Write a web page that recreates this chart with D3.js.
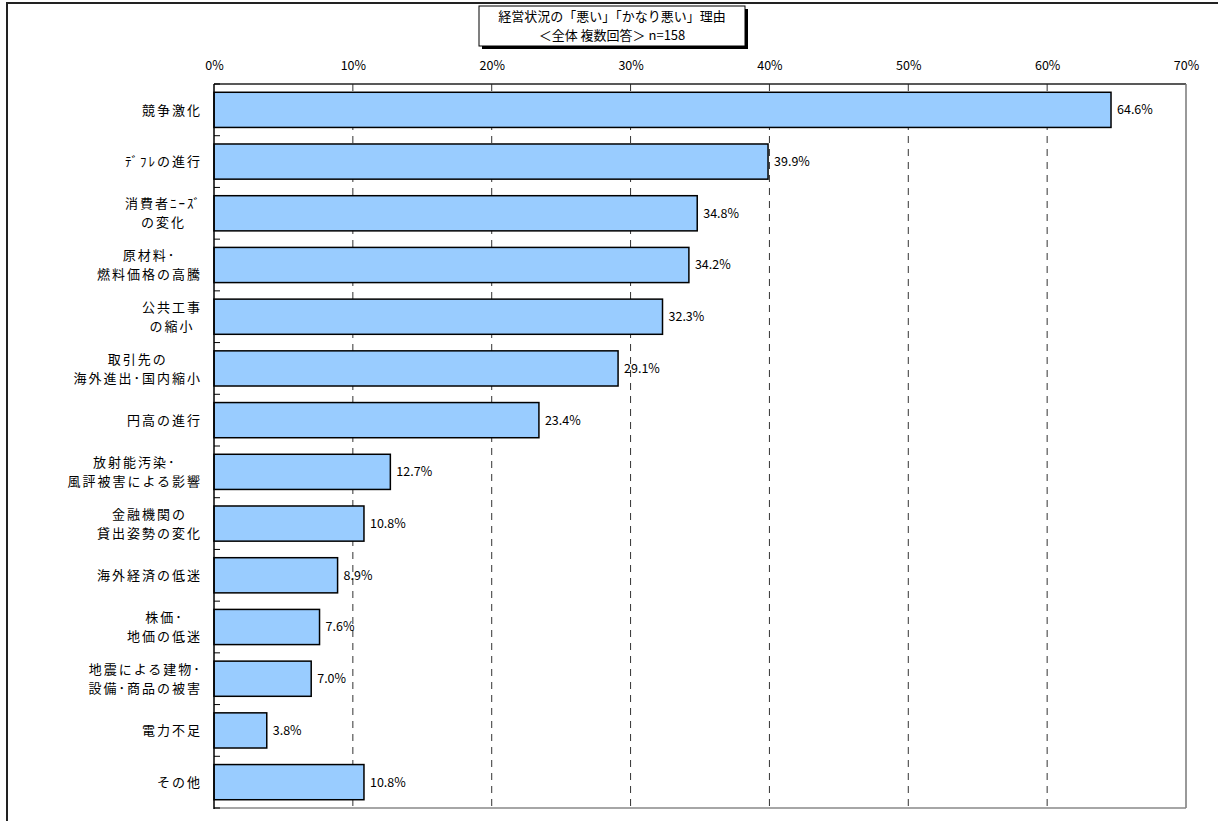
<!DOCTYPE html>
<html>
<head>
<meta charset="utf-8">
<script src="https://cdn.jsdelivr.net/npm/d3@7"></script>
<style>
  body { margin: 0; background: #fff; }
  svg { display: block; }
  text { font-family: "Noto Sans CJK JP", "Liberation Sans", sans-serif; fill: #000; }
</style>
</head>
<body>
<svg id="chart" width="1218" height="821"></svg>
<script>
// chart data
const categories = [
  "競争激化",
  "ﾃﾞﾌﾚの進行",
  "消費者ﾆｰｽﾞ\nの変化",
  "原材料･\n燃料価格の高騰",
  "公共工事\nの縮小",
  "取引先の\n海外進出･国内縮小",
  "円高の進行",
  "放射能汚染･\n風評被害による影響",
  "金融機関の\n貸出姿勢の変化",
  "海外経済の低迷",
  "株価･\n地価の低迷",
  "地震による建物･\n設備･商品の被害",
  "電力不足",
  "その他"
];
const values = [64.6, 39.9, 34.8, 34.2, 32.3, 29.1, 23.4, 12.7, 10.8, 8.9, 7.6, 7.0, 3.8, 10.8];
const ticks = [0, 10, 20, 30, 40, 50, 60, 70];
const titleLines = ["経営状況の「悪い」「かなり悪い」理由", "＜全体 複数回答＞ n=158"];

const svg = d3.select("#chart");
const plot = { left: 214, right: 1186, top: 84, bottom: 808 };

// outer chart frame (runs off the canvas on right/bottom)
svg.append("rect")
  .attr("x", 7).attr("y", 3).attr("width", 1240).attr("height", 840)
  .attr("fill", "none").attr("stroke", "#222").attr("stroke-width", 2);

const x = d3.scaleLinear().domain([0, 70]).range([plot.left, plot.right]);
const y = d3.scaleBand().domain(categories).range([plot.top, plot.bottom])
  .paddingInner(0.32).paddingOuter(0.16);

// gridlines
svg.append("g").selectAll("line").data(ticks.filter(t => t > 0 && t < 70)).join("line")
  .attr("x1", d => x(d)).attr("x2", d => x(d))
  .attr("y1", plot.top).attr("y2", plot.bottom)
  .attr("stroke", "#333").attr("stroke-width", 1)
  .attr("stroke-dasharray", "7,6");

// plot border: top dark, right and bottom grey
svg.append("line").attr("x1", plot.left).attr("x2", plot.right)
  .attr("y1", plot.top).attr("y2", plot.top).attr("stroke", "#222").attr("stroke-width", 1.5);
svg.append("line").attr("x1", plot.right).attr("x2", plot.right)
  .attr("y1", plot.top).attr("y2", plot.bottom).attr("stroke", "#777").attr("stroke-width", 1.5);
svg.append("line").attr("x1", plot.left).attr("x2", plot.right)
  .attr("y1", plot.bottom).attr("y2", plot.bottom).attr("stroke", "#888").attr("stroke-width", 1.5);

// top axis labels
const xAxis = d3.axisTop(x).tickValues(ticks).tickFormat(d => d + "%").tickSize(0).tickPadding(0);
const xg = svg.append("g").attr("transform", `translate(0,${plot.top - 14})`).call(xAxis);
xg.select(".domain").remove();
xg.selectAll("text")
  .attr("font-family", "'Liberation Sans', Arial, sans-serif")
  .attr("font-size", 12.5).attr("fill", "#111");

// bars
svg.append("g").selectAll("rect").data(values).join("rect")
  .attr("x", x(0))
  .attr("y", (d, i) => y(categories[i]))
  .attr("width", d => x(d) - x(0))
  .attr("height", y.bandwidth())
  .attr("fill", "#99CCFF").attr("stroke", "#000").attr("stroke-width", 1.5);

// value labels
svg.append("g").selectAll("text").data(values).join("text")
  .attr("x", d => x(d) + 6)
  .attr("y", (d, i) => y(categories[i]) + y.bandwidth() / 2)
  .attr("dy", "0.35em")
  .attr("font-family", "'Liberation Sans', Arial, sans-serif")
  .attr("font-size", 12.5)
  .text(d => d.toFixed(1) + "%");

// left axis line and inner ticks at category boundaries
svg.append("line").attr("x1", plot.left).attr("x2", plot.left)
  .attr("y1", plot.top).attr("y2", plot.bottom + 1).attr("stroke", "#000").attr("stroke-width", 1.5);
const step = y.step();
svg.append("g").selectAll("line").data(d3.range(categories.length + 1)).join("line")
  .attr("x1", plot.left).attr("x2", plot.left + 6)
  .attr("y1", i => plot.top + i * step).attr("y2", i => plot.top + i * step)
  .attr("stroke", "#000").attr("stroke-width", 1);

// category labels: one text per category, lines as tspans centered in a right-aligned block
const catG = svg.append("g");
categories.forEach(c => {
  const lines = c.split("\n");
  const cy = y(c) + y.bandwidth() / 2;
  const lh = 19;
  const t = catG.append("text")
    .attr("font-size", 13)
    .attr("letter-spacing", 2)
    .attr("text-anchor", "middle");
  const spans = lines.map((l, j) => t.append("tspan")
    .attr("y", cy + (j - (lines.length - 1) / 2) * lh)
    .attr("dy", "0.36em")
    .text(l));
  const w = d3.max(spans, s => s.node().getComputedTextLength());
  spans.forEach(s => s.attr("x", plot.left - 12 - w / 2));
});

// title box with shadow
const tb = { x: 479, y: 6, w: 266, h: 40 };
svg.append("rect").attr("x", tb.x + 3).attr("y", tb.y + 3).attr("width", tb.w).attr("height", tb.h)
  .attr("fill", "#000");
svg.append("rect").attr("x", tb.x).attr("y", tb.y).attr("width", tb.w).attr("height", tb.h)
  .attr("fill", "#fff").attr("stroke", "#000").attr("stroke-width", 1);
const tt = svg.append("text").attr("text-anchor", "middle").attr("font-size", 13);
titleLines.forEach((l, i) => {
  tt.append("tspan")
    .attr("x", tb.x + tb.w / 2).attr("y", tb.y + 10.5 + i * 19)
    .attr("dy", "0.35em")
    .text(l);
});
</script>
</body>
</html>
